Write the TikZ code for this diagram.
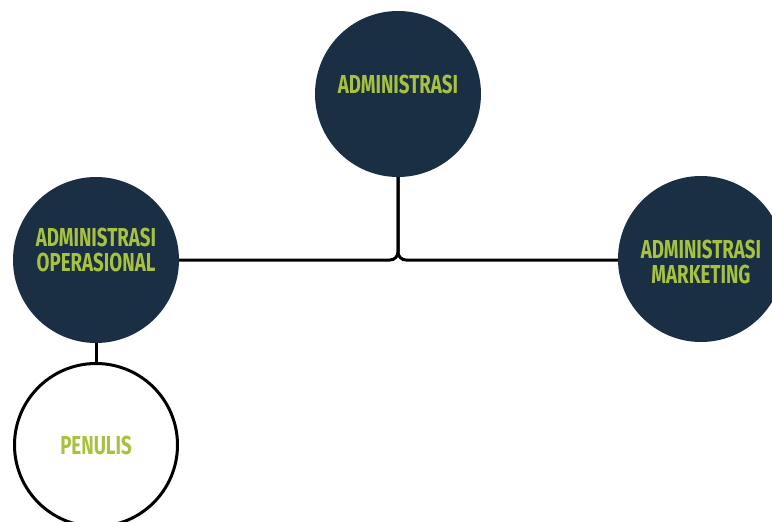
\documentclass[tikz,border=0pt]{standalone}
\usepackage{fontspec}
\setmainfont{Fira Sans}[FakeStretch=0.72,UprightFont=* Bold]
\definecolor{navy}{HTML}{1A2E44}
\definecolor{lime}{HTML}{A6C23E}
\begin{document}
\begin{tikzpicture}[x=1pt,y=-1pt,
  dark/.style={circle,fill=navy,minimum size=166pt,inner sep=0pt},
  white/.style={circle,draw=black,line width=3pt,fill=white,minimum size=163pt,inner sep=0pt},
  lbl/.style={text=lime,font=\fontsize{26}{25}\selectfont,align=center,inner sep=0pt},
  conn/.style={line width=3pt,draw=black}]
\path[use as bounding box] (0,0) rectangle (772,522);
\clip (0,0) rectangle (772,522);
\node[dark] (adm) at (398,94) {};
\node[dark] (ops) at (96,260) {};
\node[dark] (mkt) at (701,259) {};
\node[white] (pen) at (96,445) {};
\node[lbl] (admt) at ([yshift=10pt]adm.center) {ADMINISTRASI};
\node[lbl] (opst) at ([yshift=10pt]ops.center) {ADMINISTRASI\\OPERASIONAL};
\node[lbl] (mktt) at ([yshift=-3pt]mkt.center) {ADMINISTRASI\\MARKETING};
\node[lbl] (pent) at (pen.center) {PENULIS};
\draw[conn,rounded corners=8pt] (adm.south) |- (ops.east |- 0,260);
\draw[conn,rounded corners=8pt] (adm.south) |- (mkt.west |- 0,260);
\draw[conn] (ops.south) -- (pen.north);
\end{tikzpicture}
\end{document}
